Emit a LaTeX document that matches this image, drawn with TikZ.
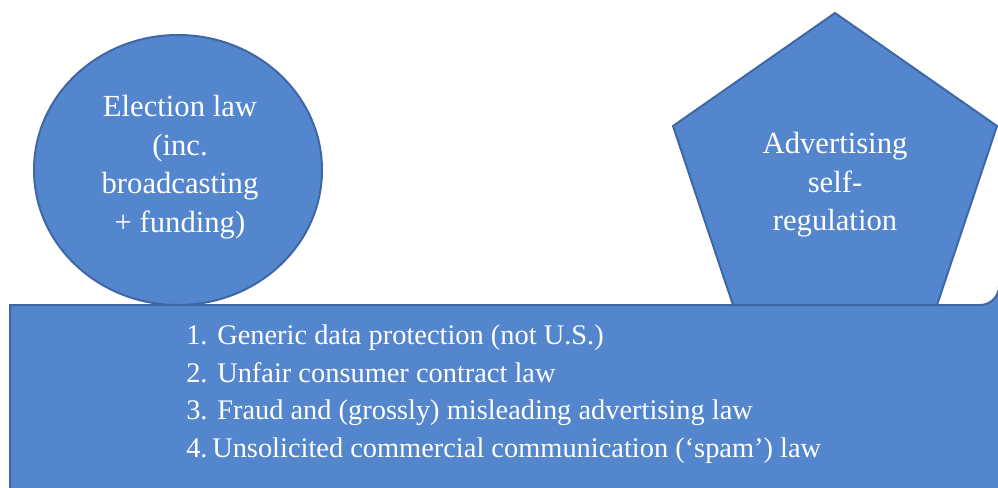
\documentclass[tikz,border=0pt]{standalone}
\usepackage{fontspec}
\setmainfont{Liberation Serif}
\begin{document}
\begin{tikzpicture}[x=0.75pt,y=-0.75pt,
  shapefill/.style={fill=blockblue,draw=edgeblue,line width=1.5pt,line join=miter},
  bigtext/.style={text=white,align=center,inner sep=0pt,font=\fontsize{23}{28.9}\selectfont},
  listtext/.style={text=white,inner sep=0pt,anchor=base west,font=\fontsize{21.3}{28}\selectfont}]
\definecolor{blockblue}{RGB}{84,134,206}
\definecolor{edgeblue}{RGB}{62,103,164}
\useasboundingbox (0,0) rectangle (998,487);

% election-law circle
\draw[shapefill] (178,170) ellipse [x radius=144, y radius=135];
\node[bigtext] (election) at (180,167) {Election law\\(inc.\\broadcasting\\+ funding)};

% base block with one rounded corner, running off the page
\draw[shapefill] (10,500) -- (10,305) -- (980,305)
  arc[start angle=90,end angle=0,radius=19] -- (999,500);

% self-regulation pentagon
\draw[shapefill] (835,13) -- (997,126) -- (937,305) -- (733,305) -- (673,126) -- cycle;
\node[bigtext] (selfreg) at (835,185) {Advertising\\self-\\regulation};

% numbered list of laws
\node[listtext] (n1) at (186,344) {1.};
\node[listtext] (t1) at (217,344) {Generic data protection (not U.S.)};
\node[listtext] (n2) at (186,382) {2.};
\node[listtext] (t2) at (217,382) {Unfair consumer contract law};
\node[listtext] (n3) at (186,419) {3.};
\node[listtext] (t3) at (217,419) {Fraud and (grossly) misleading advertising law};
\node[listtext] (n4) at (186,457) {4.};
\node[listtext] (t4) at (212,457) {Unsolicited commercial communication (‘spam’) law};
\end{tikzpicture}
\end{document}
